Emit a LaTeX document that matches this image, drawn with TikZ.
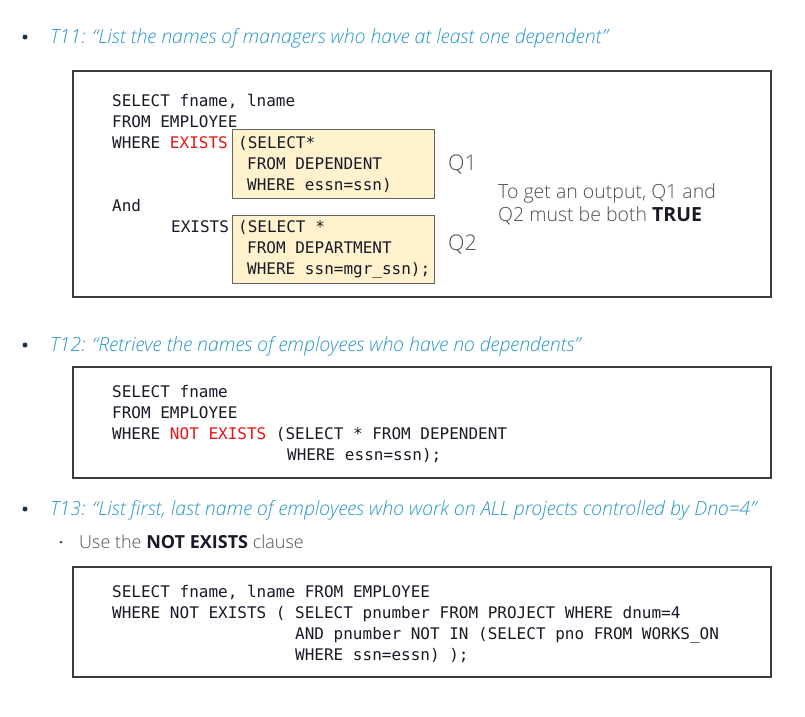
\documentclass[tikz,border=0pt]{standalone}
\usepackage{fontspec}
\setmainfont{Open Sans}[UprightFont=* Light, ItalicFont=* Light Italic, BoldFont=* Bold]
\newfontfamily\codefont{DejaVu Sans Mono}
\definecolor{headblue}{RGB}{40,150,200}
\definecolor{bulletc}{RGB}{30,50,75}
\definecolor{codec}{RGB}{25,25,40}
\definecolor{kwred}{RGB}{235,20,20}
\definecolor{boxline}{RGB}{60,60,60}
\definecolor{yfill}{RGB}{255,242,204}
\definecolor{graytext}{RGB}{80,80,80}
\begin{document}
\begin{tikzpicture}[x=1pt,y=-1pt,
  code/.style={anchor=base west,inner sep=0pt,font=\codefont\fontsize{16}{21}\selectfont,text=codec},
  head/.style={anchor=base west,inner sep=0pt,font=\fontsize{19.5}{23}\selectfont\itshape,text=headblue},
  plain/.style={anchor=base west,inner sep=0pt,font=\fontsize{18}{22}\selectfont,text=graytext},
  note/.style={anchor=base west,inner sep=0pt,font=\fontsize{19.5}{23}\selectfont,text=graytext},
  qlabel/.style={anchor=base west,inner sep=0pt,font=\fontsize{21.5}{25}\selectfont,text=graytext},
  frame/.style={draw=boxline,line width=1.6pt,fill=white},
  ybox/.style={draw=boxline!80,line width=1pt,fill=yfill},
  dot/.style={circle,fill=bulletc,inner sep=0pt,minimum size=5pt}]
\useasboundingbox (0,0) rectangle (805,716);
% bullets and headings
\node[dot] (b1) at (25,37) {};
\node[head] (h1) at (50,43) {T11: “List the names of managers who have at least one dependent”};
\node[dot] (b2) at (25,345) {};
\node[head] (h2) at (50,351) {T12: “Retrieve the names of employees who have no dependents”};
\node[dot] (b3) at (25,509) {};
\node[head] (h3) at (50,515) {T13: “List first, last name of employees who work on ALL projects controlled by Dno=4”};
\node[circle,fill=graytext,inner sep=0pt,minimum size=3pt] (b4) at (61,542) {};
\node[plain] (sub) at (79,548) {Use the \textbf{\color{codec}NOT EXISTS} clause};
% box 1
\draw[frame] (73,71) rectangle (771,297);
\node[ybox,minimum width=202pt,minimum height=69pt,anchor=north west,inner sep=0pt] (q1box) at (232,129) {};
\node[ybox,minimum width=202pt,minimum height=68pt,anchor=north west,inner sep=0pt] (q2box) at (232,215) {};
\node[code] (c1a) at (112,106.5) {SELECT fname, lname};
\node[code] (c1b) at (112,127.5) {FROM EMPLOYEE};
\node[code] (c1c) at (112,148) {WHERE \textcolor{kwred}{EXISTS}};
\node[code] (c1d) at (238,148) {(SELECT*};
\node[code] (c1e) at (247,169) {FROM DEPENDENT};
\node[code] (c1f) at (247,190) {WHERE essn=ssn)};
\node[code] (c1g) at (112,211) {And};
\node[code] (c1h) at (171,232) {EXISTS};
\node[code] (c1i) at (238,232) {(SELECT *};
\node[code] (c1j) at (247,253) {FROM DEPARTMENT};
\node[code] (c1k) at (247,274) {WHERE ssn=mgr\_ssn);};
\node[qlabel] (q1) at (448,170) {Q1};
\node[qlabel] (q2) at (448,250) {Q2};
\node[note] (n1) at (498,198.5) {To get an output, Q1 and};
\node[note] (n2) at (498,221.5) {Q2 must be both \textbf{\color{codec}TRUE}};
% box 2
\draw[frame] (73,367) rectangle (771,478);
\node[code] (c2a) at (112,397) {SELECT fname};
\node[code] (c2b) at (112,418) {FROM EMPLOYEE};
\node[code] (c2c) at (112,439) {WHERE \textcolor{kwred}{NOT EXISTS} (SELECT * FROM DEPENDENT};
\node[code] (c2d) at (287,460) {WHERE essn=ssn);};
% box 3
\draw[frame] (73,567) rectangle (771,677);
\node[code] (c3a) at (112,597) {SELECT fname, lname FROM EMPLOYEE};
\node[code] (c3b) at (112,618) {WHERE NOT EXISTS ( SELECT pnumber FROM PROJECT WHERE dnum=4};
\node[code] (c3c) at (295,639) {AND pnumber NOT IN (SELECT pno FROM WORKS\_ON};
\node[code] (c3d) at (295,660) {WHERE ssn=essn) );};
\end{tikzpicture}
\end{document}
